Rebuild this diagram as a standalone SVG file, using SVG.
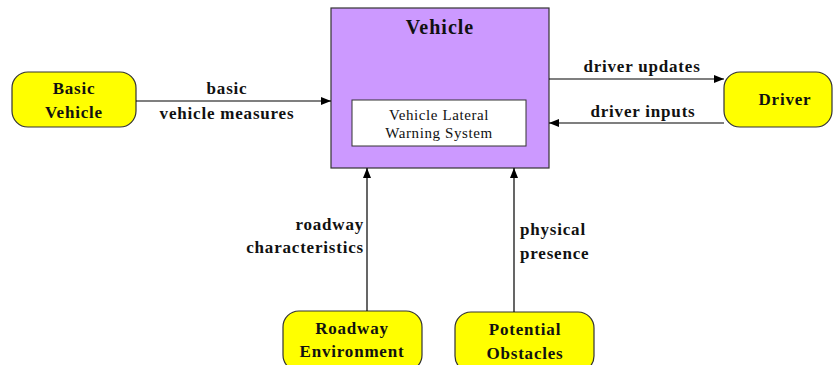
<svg xmlns="http://www.w3.org/2000/svg" width="837" height="365" viewBox="0 0 837 365">
  <defs>
    <marker id="arrow" viewBox="0 0 10 10" refX="10" refY="5" markerWidth="10" markerHeight="10" markerUnits="userSpaceOnUse" orient="auto">
      <path d="M0,1 L10,5 L0,9 Z" fill="#000"/>
    </marker>
    <style>
      .term { fill: #ffff00; stroke: #333; stroke-width: 1.2; }
      .label { font-family: "Liberation Serif", "Times New Roman", serif; font-weight: bold; font-size: 17px; letter-spacing: 0.8px; fill: #111; }
      .title { font-size: 20px; letter-spacing: 1px; }
      .inner { font-family: "Liberation Serif", "Times New Roman", serif; font-size: 15px; letter-spacing: 0.6px; fill: #111; text-anchor: middle; }
      .c { text-anchor: middle; }
      .flow { fill: none; stroke: #000; stroke-width: 1.2; marker-end: url(#arrow); }
    </style>
  </defs>
  <rect width="837" height="365" fill="#fff"/>

  <g id="vehicle">
    <rect x="331" y="8" width="218" height="160" fill="#cc99ff" stroke="#333" stroke-width="1.2"/>
    <text class="label title c" x="440" y="34">Vehicle</text>
    <rect x="352" y="100" width="174" height="46" fill="#fff" stroke="#333" stroke-width="1"/>
    <text class="inner" x="439" y="120">Vehicle Lateral</text>
    <text class="inner" x="439" y="138">Warning System</text>
  </g>

  <g id="basic-vehicle">
    <rect class="term" x="12" y="72" width="124" height="55" rx="16"/>
    <text class="label c" x="74" y="94">Basic</text>
    <text class="label c" x="74" y="118">Vehicle</text>
  </g>

  <g id="driver">
    <rect class="term" x="724" y="72" width="108" height="55" rx="16"/>
    <text class="label c" x="785" y="105">Driver</text>
  </g>

  <g id="roadway-environment">
    <rect class="term" x="283" y="311" width="139" height="60" rx="16"/>
    <text class="label c" x="352" y="334">Roadway</text>
    <text class="label c" x="352" y="357">Environment</text>
  </g>

  <g id="potential-obstacles">
    <rect class="term" x="455" y="312" width="139" height="60" rx="16"/>
    <text class="label c" x="525" y="335">Potential</text>
    <text class="label c" x="525" y="359">Obstacles</text>
  </g>

  <g id="connectors">
    <line class="flow" x1="136" y1="101" x2="331" y2="101"/>
    <text class="label c" x="227" y="94">basic</text>
    <text class="label c" x="227" y="119">vehicle measures</text>

    <line class="flow" x1="549" y1="79" x2="724" y2="79"/>
    <text class="label c" x="642" y="72">driver updates</text>

    <line class="flow" x1="724" y1="123" x2="549" y2="123"/>
    <text class="label c" x="643" y="117">driver inputs</text>

    <line class="flow" x1="367" y1="311" x2="367" y2="168"/>
    <text class="label" x="364" y="230" text-anchor="end">roadway</text>
    <text class="label" x="364" y="253" text-anchor="end">characteristics</text>

    <line class="flow" x1="514" y1="312" x2="514" y2="168"/>
    <text class="label" x="520" y="235">physical</text>
    <text class="label" x="520" y="259">presence</text>
  </g>
</svg>
